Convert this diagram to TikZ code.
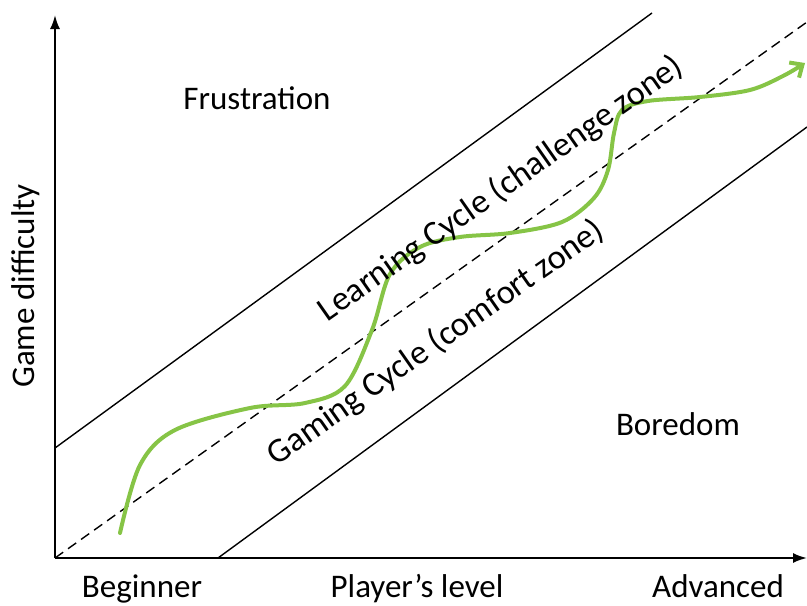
\documentclass[tikz,border=0pt]{standalone}
\usepackage{fontspec}
\setmainfont{Carlito}
\usetikzlibrary{arrows.meta, positioning}
\definecolor{curvegreen}{RGB}{134,196,70}

\begin{document}
\begin{tikzpicture}[x=0.5pt,y=-0.5pt,
      axis/.style={line width=1pt,-{Latex[length=7pt,width=5pt]}},
      zoneline/.style={line width=0.7pt},
      label/.style={font=\fontsize{16.5}{19}\selectfont,inner sep=0pt},
      zonelabel/.style={font=\fontsize{17.2}{20}\selectfont,inner sep=0pt,rotate=35},
      progress/.style={curvegreen,line width=2pt,line cap=round,
        -{Straight Barb[length=5pt,width=9pt,line width=2pt]}}]
      \useasboundingbox (0,0) rectangle (807,605);
      % axes
      \coordinate (O) at (55,558);
      \coordinate (ytop) at (55,15);
      \coordinate (xend) at (807,558);
      \draw[axis] (O) -- (ytop);
      \draw[axis] (O) -- (xend);
      % zone boundaries
      \coordinate (upA) at (55,448);
      \coordinate (upB) at (652,13);
      \coordinate (loA) at (218,558);
      \coordinate (loB) at (807,127);
      \coordinate (midB) at (807,22);
      \draw[zoneline] (upA) -- (upB);
      \draw[zoneline] (loA) -- (loB);
      \draw[zoneline,dashed,dash pattern=on 5pt off 3pt] (O) -- (midB);
      % player's progress
      \draw[progress] plot[smooth,tension=0.55] coordinates {
        (120,533) (140,465) (175,430) (250,408) (305,403) (345,386)
        (372,330) (390,274) (420,247) (460,237) (510,233) (562,222)
        (594,198) (608,170) (614,133) (622,110) (648,101) (700,97)
        (750,90) (783,76) (805,63)};
      % labels
      \node[label] (frustration) at (257,98) {Frustration};
      \node[label] (boredom) at (678,424) {Boredom};
      \node[zonelabel] (learning) at (501,189) {Learning Cycle (challenge zone)};
      \node[zonelabel] (gaming) at (436,343) {Gaming Cycle (comfort zone)};
      \node[label,rotate=90] (difficulty) at (26,286) {Game difficulty};
      \node[label,anchor=base] (beginner) at (142,597) {Beginner};
      \node[label,anchor=base] (level) at (417,597) {Player’s level};
      \node[label,anchor=base] (advanced) at (718,597) {Advanced};
    \end{tikzpicture}
\end{document}
